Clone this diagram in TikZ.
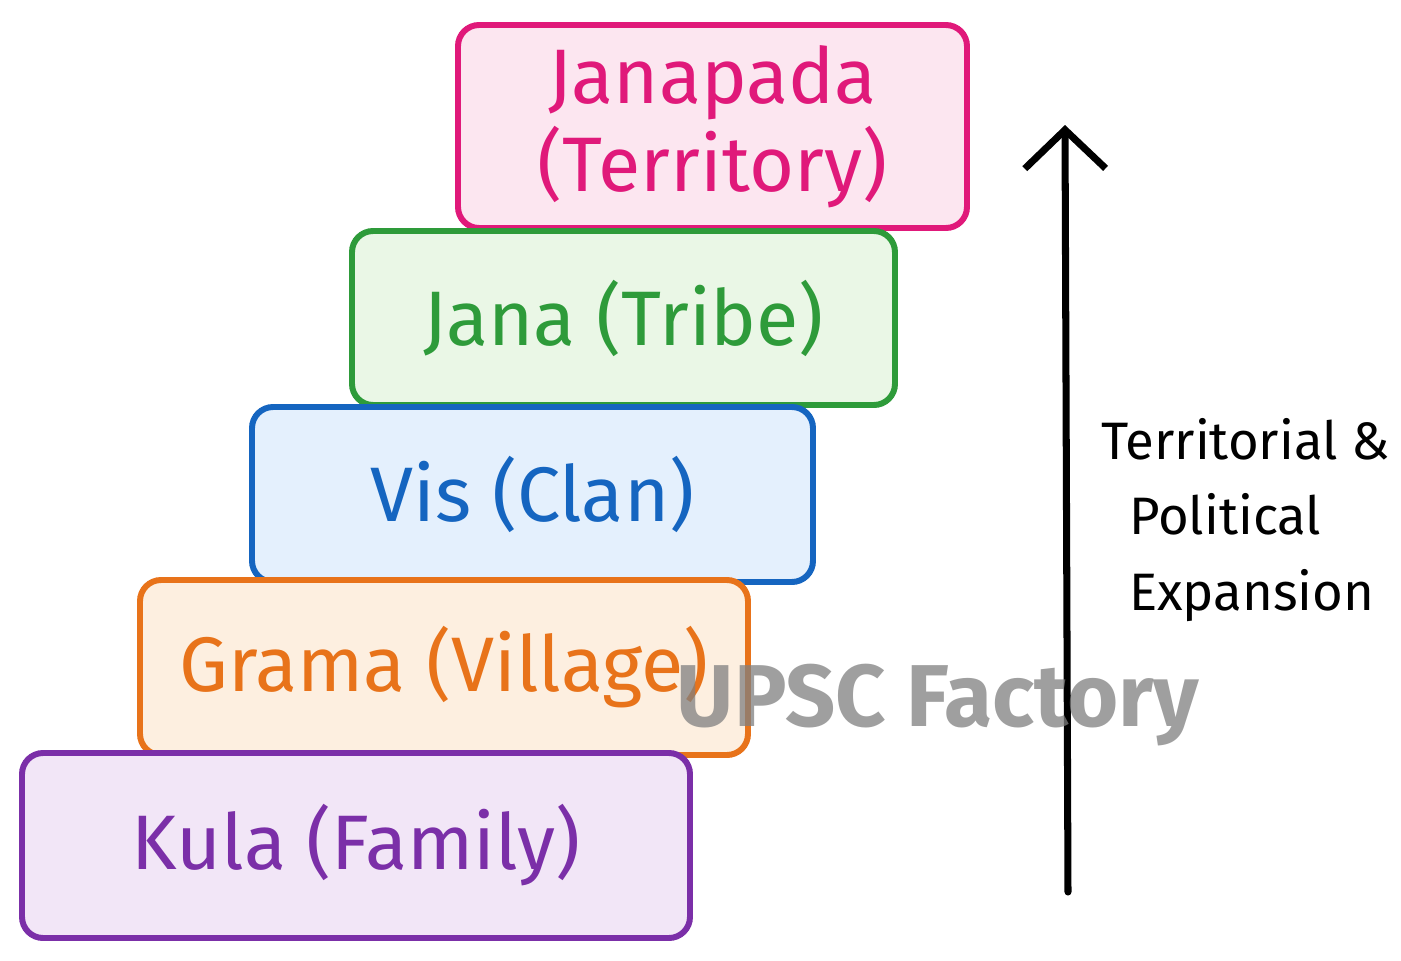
\documentclass[tikz,border=0pt]{standalone}
\usepackage{fontspec}
\setmainfont{Fira Sans}
\usetikzlibrary{arrows.meta}
\definecolor{pk}{HTML}{E0197A}\definecolor{pkf}{HTML}{FCE6F0}
\definecolor{gr}{HTML}{2E9B3A}\definecolor{grf}{HTML}{EAF7E6}
\definecolor{bl}{HTML}{1565C0}\definecolor{blf}{HTML}{E4F0FD}
\definecolor{or}{HTML}{E8731A}\definecolor{orf}{HTML}{FDEFE0}
\definecolor{pu}{HTML}{7B2FA8}\definecolor{puf}{HTML}{F2E6F7}
\tikzset{box/.style={draw=#1, fill=#1f, line width=3.4pt, rounded corners=12pt, text=#1, font=\fontsize{44}{50}\selectfont, align=center, inner sep=0pt}}
\begin{document}
\begin{tikzpicture}[x=0.02cm,y=-0.02cm]
\useasboundingbox[fill=white] (0,0) rectangle (1401,961);
\node[box=pk, minimum width=509*0.02cm, minimum height=203*0.02cm] (janapada) at (712.5,126.5) {Janapada\\(Territory)};
\node[box=gr, minimum width=543*0.02cm, minimum height=174*0.02cm] (jana) at (623.5,318) {Jana (Tribe)};
\node[box=bl, minimum width=561*0.02cm, minimum height=175*0.02cm] (vis) at (532.5,494.5) {Vis (Clan)};
\node[box=or, minimum width=608*0.02cm, minimum height=175*0.02cm] (grama) at (444,667.5) {Grama (Village)};
\node[box=pu, minimum width=668*0.02cm, minimum height=185*0.02cm] (kula) at (356,845.5) {Kula (Family)};
\coordinate (abot) at (1068,892);
\coordinate (atop) at (1065,125);
\draw[line width=4pt, -{Straight Barb[length=22pt,width=46pt,line width=4pt]}, line cap=round] (abot) -- (atop);
\node[font=\fontsize{30}{43}\selectfont, align=left, anchor=west] (lab) at (1095,520) {Territorial \&\\\ \ Political\\\ \ Expansion};
\node[font=\fontsize{50}{56}\selectfont\bfseries, text=gray, opacity=0.75] (wm) at (938,705) {UPSC Factory};
\end{tikzpicture}
\end{document}
